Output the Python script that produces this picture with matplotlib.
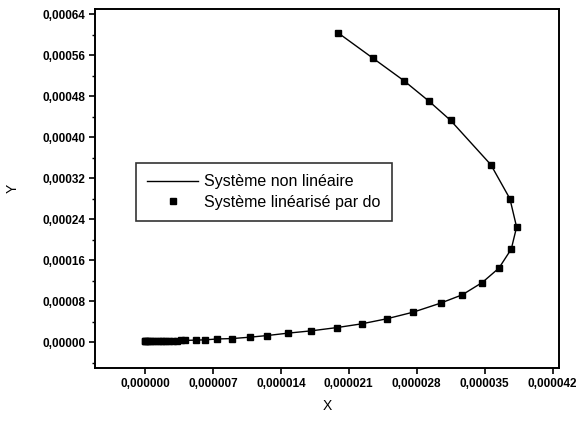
import matplotlib
matplotlib.use("Agg")
from matplotlib import pyplot as plt
from matplotlib.ticker import MultipleLocator, FuncFormatter

# trajectory points (X, Y)
x_vals = [1.991e-5, 2.346e-5, 2.668e-5, 2.929e-5, 3.149e-5, 3.564e-5, 3.760e-5,
          3.829e-5, 3.774e-5, 3.647e-5, 3.475e-5, 3.269e-5, 3.046e-5, 2.764e-5,
          2.490e-5, 2.232e-5, 1.981e-5, 1.710e-5, 1.476e-5, 1.260e-5, 1.082e-5,
          8.99e-6, 7.45e-6, 6.18e-6, 5.25e-6, 4.1e-6, 3.7e-6, 3.3e-6, 2.9e-6,
          2.5e-6, 2.2e-6, 1.9e-6, 1.6e-6, 1.3e-6, 1.0e-6, 0.75e-6, 0.5e-6,
          0.3e-6, 0.15e-6, 0.05e-6, 0.0]
y_vals = [6.033e-4, 5.545e-4, 5.102e-4, 4.698e-4, 4.328e-4, 3.463e-4, 2.800e-4,
          2.248e-4, 1.819e-4, 1.448e-4, 1.167e-4, 9.27e-5, 7.65e-5, 5.89e-5,
          4.59e-5, 3.61e-5, 2.89e-5, 2.24e-5, 1.80e-5, 1.33e-5, 1.01e-5,
          7.4e-6, 6.6e-6, 4.9e-6, 4.4e-6, 3.8e-6, 3.7e-6, 3.6e-6, 3.5e-6,
          3.4e-6, 3.3e-6, 3.2e-6, 3.1e-6, 3.0e-6, 3.0e-6, 2.9e-6, 2.9e-6,
          2.8e-6, 2.8e-6, 2.8e-6, 2.8e-6]

x_ticks = [0.0, 0.000007, 0.000014, 0.000021, 0.000028, 0.000035, 0.000042]
y_ticks = [0.0, 0.00008, 0.00016, 0.00024, 0.00032, 0.00040, 0.00048, 0.00056, 0.00064]

plt.rcParams['font.family'] = ['Liberation Sans', 'DejaVu Sans']

fig = plt.figure(figsize=(5.81, 4.21), dpi=100)
ax = fig.add_axes([0.1635, 0.1259, 0.7985, 0.8527])

ax.plot(x_vals, y_vals, color='black', linewidth=1.0, label='Système non linéaire')
ax.plot(x_vals, y_vals, linestyle='none', marker='s', markersize=3.8,
        color='black', label='Système linéarisé par do')

ax.set_xlim(-5.15e-6, 4.265e-5)
ax.set_ylim(-5.0e-5, 6.5e-4)
ax.set_xticks(x_ticks)
ax.set_yticks(y_ticks)
ax.yaxis.set_minor_locator(MultipleLocator(0.00004))

ax.xaxis.set_major_formatter(FuncFormatter(lambda v, p: f"{v:.6f}".replace('.', ',')))
ax.yaxis.set_major_formatter(FuncFormatter(lambda v, p: f"{v:.5f}".replace('.', ',')))

ax.tick_params(axis='both', which='major', direction='out', length=4, width=1.2,
               labelsize=8.5, pad=3)
ax.tick_params(axis='y', which='minor', direction='out', length=2.5, width=1.0)
for lab in ax.get_xticklabels() + ax.get_yticklabels():
    lab.set_fontweight('bold')
for sp in ax.spines.values():
    sp.set_linewidth(1.4)

ax.set_xlabel('X', fontsize=10, labelpad=7)
ax.set_ylabel('Y', fontsize=10, labelpad=16)

leg = ax.legend(loc='upper left', bbox_to_anchor=(0.088, 0.571), borderaxespad=0,
                fontsize=11.5, frameon=True, fancybox=False, handlelength=3.2,
                borderpad=0.7, labelspacing=0.35, handletextpad=0.4)
leg.get_frame().set_edgecolor('black')
leg.get_frame().set_linewidth(1.2)

fig.savefig('out.png', dpi=100)
